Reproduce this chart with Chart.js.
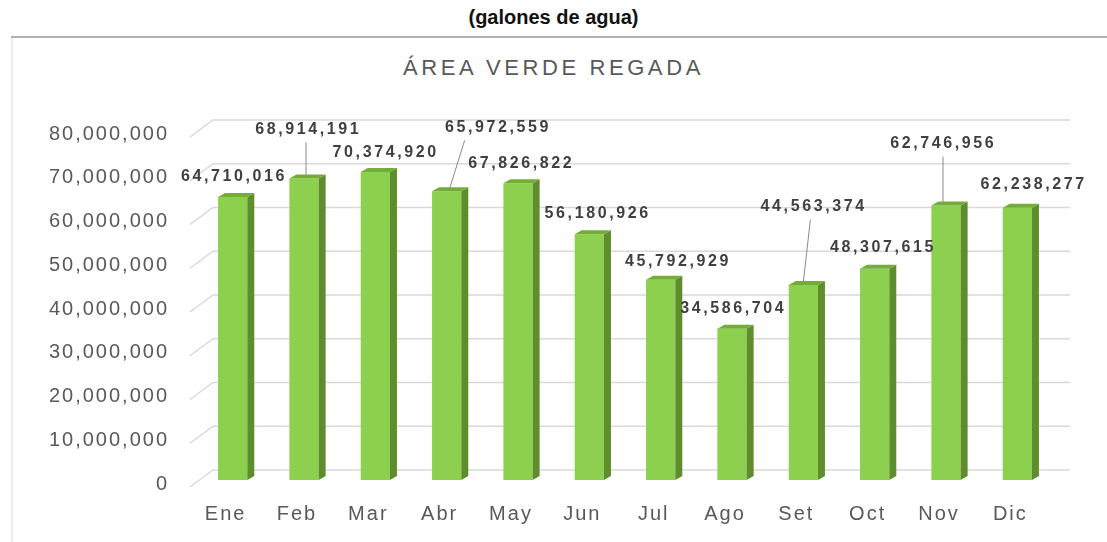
<!DOCTYPE html>
<html>
<head>
<meta charset="utf-8">
<title>Área verde regada</title>
<script src="https://cdn.jsdelivr.net/npm/chart.js@4"></script>
<style>
    body { margin: 0; width: 1107px; height: 542px; background: #fff; position: relative; overflow: hidden; }
    #sub { position: absolute; top: 6px; left: 0; width: 1107px; text-align: center;
           font: bold 20px "Liberation Sans Narrow", "Liberation Sans", Arial, sans-serif; color: #111; }
    #rule { position: absolute; top: 36px; left: 11px; right: 0; height: 2px; background: #b0b0b0; }
    #frame { position: absolute; top: 38px; left: 11px; width: 2px; bottom: 0; background: #ececec; }
    #title { position: absolute; top: 55px; left: 0; width: 1107px; text-align: center;
             font: 22px "Liberation Sans", Arial, sans-serif; letter-spacing: 3.6px; color: #595959; }
    #wrap { position: absolute; left: 13px; top: 39px; width: 1094px; height: 503px; }
</style>
</head>
<body>
<div id="sub">(galones de agua)</div>
<div id="rule"></div>
<div id="frame"></div>
<div id="title">ÁREA VERDE REGADA</div>
<div id="wrap"><canvas id="chart"></canvas></div>
<script>
const months = ["Ene", "Feb", "Mar", "Abr", "May", "Jun", "Jul", "Ago", "Set", "Oct", "Nov", "Dic"];
const gallons = [64710016, 68914191, 70374920, 65972559, 67826822, 56180926,
                 45792929, 34586704, 44563374, 48307615, 62746956, 62238277];
const yMax = 80000000;
const yStep = 10000000;

// where each value label sits relative to its bar top: [dx, dy, leader line or null]
// leader line = [start dx from label, end dx from bar centre]
const labelShift = [
    [0, -20, null], [3, -49, [-1, 2]], [9, -20, null], [50, -64, [-32, 3]],
    [2, -20, null], [7, -21, null], [16, -18, null], [0, -20, null],
    [9, -78, [-2, 0]], [7, -21, null], [-4, -62, [1, -3]], [15, -23, null]
];

const frontColor = "#8DCF4E";
const sideColor = "#5E8E2C";
const topColor = "#74AC38";
const depthX = 7;   // 3D depth of bars
const depthY = 4;

const bar3d = {
    id: "bar3d",
    beforeLayout(chart) { chart.ctx.letterSpacing = "2px"; },
    beforeDraw(chart) { chart.ctx.letterSpacing = "2px"; },
    // back wall gridlines with the slanted floor lines
    beforeDatasetsDraw(chart) {
        const { ctx, chartArea: a, scales: { y } } = chart;
        ctx.save();
        ctx.strokeStyle = "#d9d9d9";
        ctx.lineWidth = 1.5;
        y.ticks.forEach(t => {
            const py = y.getPixelForValue(t.value);
            ctx.beginPath();
            ctx.moveTo(a.left - 7, py + 7);
            ctx.lineTo(a.left + 16, py - 10);
            ctx.lineTo(a.right + 17, py - 10);
            ctx.stroke();
        });
        ctx.restore();
    },
    afterDatasetsDraw(chart) {
        const { ctx } = chart;
        const meta = chart.getDatasetMeta(0);
        ctx.save();
        meta.data.forEach(bar => {
            const left = bar.x - bar.width / 2;
            const right = bar.x + bar.width / 2;
            const top = bar.y, base = bar.base;
            // side face
            ctx.fillStyle = sideColor;
            ctx.beginPath();
            ctx.moveTo(right, top);
            ctx.lineTo(right + depthX, top - depthY);
            ctx.lineTo(right + depthX, base - depthY);
            ctx.lineTo(right, base);
            ctx.closePath();
            ctx.fill();
            // top face
            ctx.fillStyle = topColor;
            ctx.beginPath();
            ctx.moveTo(left, top);
            ctx.lineTo(left + depthX, top - depthY);
            ctx.lineTo(right + depthX, top - depthY);
            ctx.lineTo(right, top);
            ctx.closePath();
            ctx.fill();
        });

        // value labels
        ctx.font = "bold 16px 'Liberation Sans', Arial, sans-serif";
        ctx.letterSpacing = "2.6px";
        ctx.fillStyle = "#404040";
        ctx.textAlign = "center";
        ctx.textBaseline = "middle";
        ctx.strokeStyle = "#8a8a8a";
        ctx.lineWidth = 1;
        meta.data.forEach((bar, i) => {
            const [dx, dy, lead] = labelShift[i];
            const lx = bar.x + dx;
            const ly = bar.y + dy;
            if (lead !== null) {
                ctx.beginPath();
                ctx.moveTo(lx + lead[0], ly + 13);
                ctx.lineTo(bar.x + lead[1], bar.y - 3);
                ctx.stroke();
            }
            ctx.fillText(gallons[i].toLocaleString("en-US"), lx + 1.3, ly);
        });
        ctx.restore();
    }
};

new Chart(document.getElementById("chart"), {
    type: "bar",
    data: {
        labels: months,
        datasets: [{
            data: gallons,
            backgroundColor: frontColor,
            borderWidth: 0,
            barPercentage: 0.41,
            categoryPercentage: 1
        }]
    },
    options: {
        responsive: true,
        maintainAspectRatio: false,
        animation: false,
        layout: { padding: { top: 91, right: 54, left: 0, bottom: 0 } },
        plugins: {
            legend: { display: false },
            tooltip: { enabled: false },
            title: { display: false }
        },
        scales: {
            x: {
                grid: { display: false, drawTicks: false },
                border: { display: false },
                ticks: {
                    color: "#595959",
                    font: { family: "'Liberation Sans', Arial, sans-serif", size: 20 },
                    padding: 22,
                    labelOffset: -7
                },
                afterFit(scale) { scale.height = 62; }
            },
            y: {
                min: 0,
                max: yMax,
                grid: { display: false, drawTicks: false },
                border: { display: false },
                ticks: {
                    stepSize: yStep,
                    color: "#595959",
                    font: { family: "'Liberation Sans', Arial, sans-serif", size: 20 },
                    padding: 28,
                    labelOffset: 4,
                    callback: v => v.toLocaleString("en-US")
                },
                afterFit(scale) { scale.width = 184; }
            }
        }
    },
    plugins: [bar3d]
});
</script>
</body>
</html>
